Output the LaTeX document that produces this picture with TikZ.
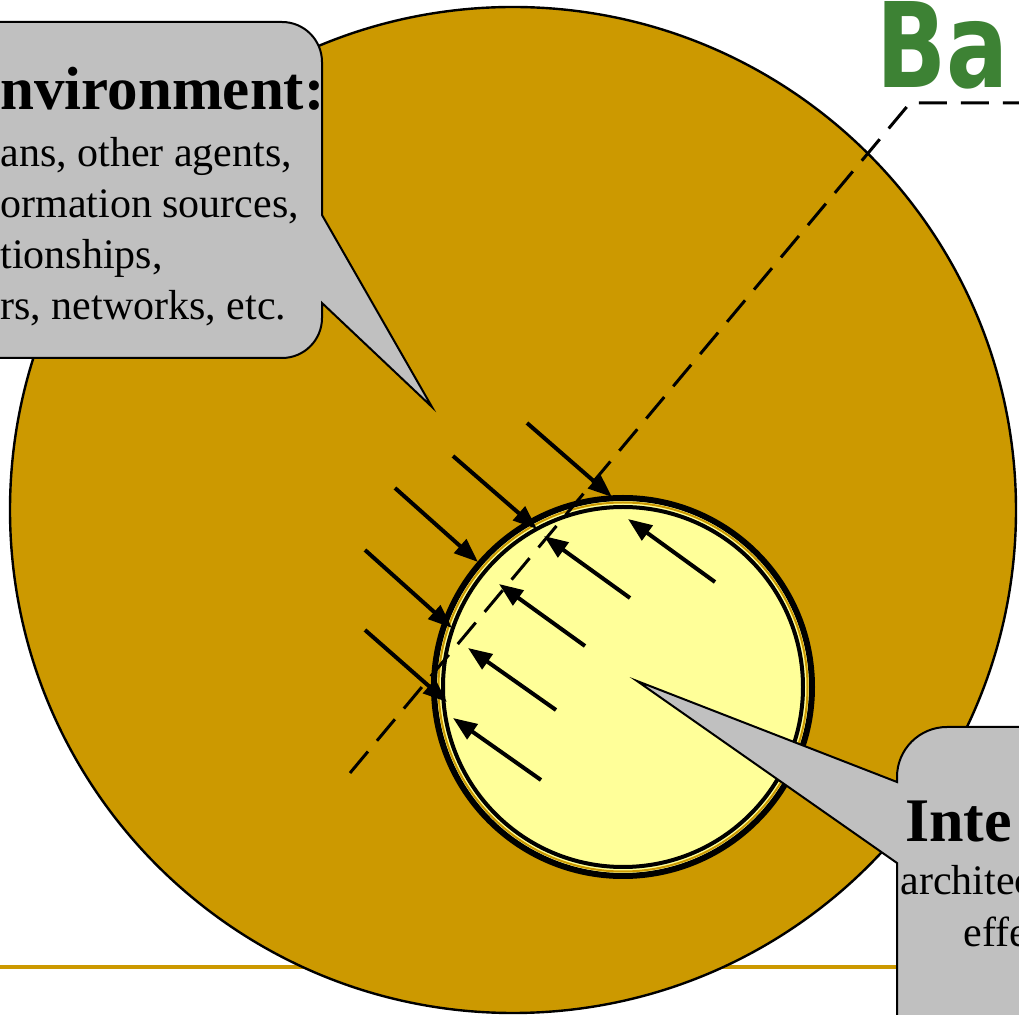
\documentclass[tikz,border=0pt]{standalone}
\usepackage{xcolor}
\usepackage{fontspec}
\setmainfont{Liberation Serif}
\newfontfamily\titlefont{DejaVu Sans}
\usetikzlibrary{arrows.meta}

\definecolor{gold}{RGB}{204,153,0}
\definecolor{paleyellow}{RGB}{255,255,153}
\definecolor{calloutgrey}{RGB}{192,192,192}
\definecolor{titlegreen}{RGB}{61,130,52}

\tikzset{
  callout/.style={draw=black,line width=1pt,fill=calloutgrey},
  flow/.style={line width=2pt,-{Triangle[length=12pt,width=9pt]}},
  heading/.style={anchor=base west,inner sep=0pt,font=\bfseries\fontsize{30.5}{36}\selectfont},
  bodytext/.style={anchor=base west,inner sep=0pt,font=\fontsize{21}{25}\selectfont},
}

\begin{document}
\begin{tikzpicture}[x=0.5pt,y=-0.5pt]
    \useasboundingbox (0,0) rectangle (1019,1015);
    % rule under the picture
    \draw[gold,line width=2pt] (0,967) -- (1019,967);
    % environment disc
    \filldraw[fill=gold,draw=black,line width=1.2pt] (513,510) circle[radius=251.5pt];
    % environment callout
    \draw[callout] (-20,22) -- (282,22) arc[start angle=90,end angle=0,radius=20pt]
        -- (322,215) -- (432,407) -- (322,303) -- (322,318)
        arc[start angle=0,end angle=-90,radius=20pt] -- (-20,358) -- cycle;
    \node[heading] (envhead) at (0,110) {nvironment:};
    \node[bodytext] (env1) at (0,167) {ans, other agents,};
    \node[bodytext] (env2) at (0,218) {ormation sources,};
    \node[bodytext] (env3) at (0,269) {tionships,};
    \node[bodytext] (env4) at (0,320) {rs, networks, etc.};
    % agent disc
    \fill[paleyellow] (623,687) circle[radius=94.5pt];
    \draw[black,line width=3pt] (623,687) circle[radius=94.5pt];
    \draw[gold,line width=1pt] (623,687) circle[radius=92.25pt];
    \draw[black,line width=2pt] (623,687) circle[radius=90pt];
    % boundary
    \coordinate (bndlow) at (350,773);
    \coordinate (bndbend) at (910,103);
    \coordinate (bndend) at (1030,103);
    \draw[line width=1.5pt,dash pattern=on 14pt off 7pt] (bndlow) -- (bndbend) -- (bndend);
    % percepts in, actions out
    \foreach \sx/\sy/\ex/\ey in {527/423/612/497,453/456/537/529,395/488/478/562,
        365/550/452/628,365/630/447/702}
        \draw[flow] (\sx,\sy) -- (\ex,\ey);
    \foreach \sx/\sy/\ex/\ey in {715/582/628/519,630/598/544/536,585/646/499/584,
        556/710/468/648,541/780/453/718}
        \draw[flow] (\sx,\sy) -- (\ex,\ey);
    % interaction callout
    \draw[callout] (1040,727) -- (947,727) arc[start angle=90,end angle=180,radius=25pt]
        -- (897,782) -- (637,681) -- (897,863) -- (897,1040) -- (1040,1040) -- cycle;
    \node[heading,font=\bfseries\fontsize{31}{36}\selectfont] (inthead) at (905,842) {Inte};
    \node[bodytext] (int1) at (900,895) {architec};
    \node[bodytext] (int2) at (963,947) {effe};
    % title
    \node[anchor=base west,inner sep=0pt,xscale=0.78,text=titlegreen,
        font=\titlefont\bfseries\fontsize{59}{64}\selectfont] (title) at (876,88) {Ba};
\end{tikzpicture}
\end{document}
